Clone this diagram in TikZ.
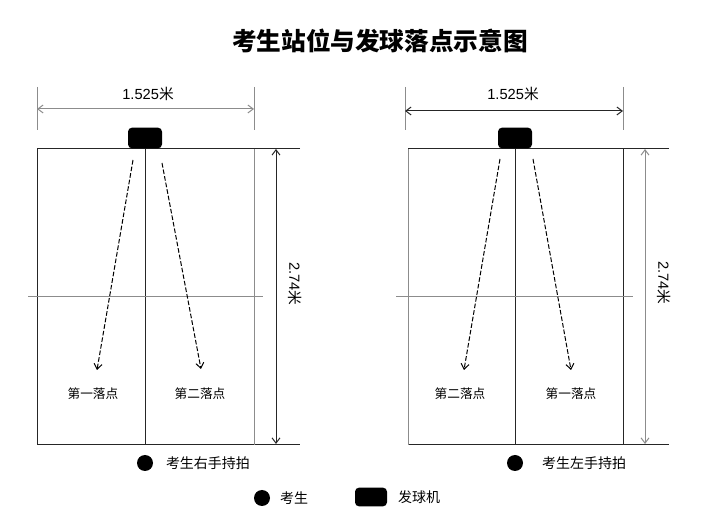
\documentclass[tikz,border=0pt]{standalone}
\usepackage{fontspec}
\setmainfont{Liberation Sans}
\newfontfamily\cjk{Noto Sans CJK SC}
\usetikzlibrary{arrows.meta}

\tikzset{every picture/.style={line width=0.75pt}}
\tikzset{
  court/.style={draw=black!85},
  faint/.style={draw=black!45},
  dimline/.style={{Straight Barb[length=4pt,width=6pt]}-{Straight Barb[length=4pt,width=6pt]}},
  shot/.style={dash pattern=on 3.5pt off 1.5pt,-{Straight Barb[length=4pt,width=6pt]}},
  machine/.style={fill=black,rounded corners=3pt,minimum width=25.5pt,minimum height=15.5pt,inner sep=0pt},
  player/.style={circle,fill=black,minimum size=12pt,inner sep=0pt},
  spot/.style={font=\cjk\fontsize{9.5}{10}\selectfont,inner sep=0.75pt},
  lbl/.style={font=\cjk\fontsize{10.5}{12}\selectfont,inner sep=0.75pt},
  dimtext/.style={font=\fontsize{11}{12}\selectfont,inner sep=0.75pt}
}

\begin{document}
\begin{tikzpicture}[x=0.75pt,y=0.75pt,yscale=-1,xscale=1]
\useasboundingbox (0,0) rectangle (719,520);

% Text Node
\node (title) at (380,41) [font=\cjk\bfseries\fontsize{18.5}{20}\selectfont] {考生站位与发球落点示意图};

%%%%%%%% left court (right hand)
%Shape: Lines
\draw [faint] (37,87) -- (37,130) ;
\draw [faint] (254,87) -- (254,130) ;
\coordinate (lw1) at (37,109) ;
\coordinate (lw2) at (254,109) ;
\draw [faint,dimline] (lw1) -- (lw2) ;
\node (lwlab) at (148,94) [dimtext] {1.525\cjk 米};
%Shape: Court
\draw [court] (300,149) -- (37,149) -- (37,445) -- (300,445) ;
\draw [court] (145,149) -- (145,445) ;
\draw [faint] (254,149) -- (254,445) ;
\draw [faint,line width=0.5pt] (28,296) -- (263,296) ;
\coordinate (lh1) at (276,149) ;
\coordinate (lh2) at (276,444) ;
\draw [court,dimline] (lh1) -- (lh2) ;
\node (lhlab) at (295,284) [dimtext,rotate=-90] {2.74\cjk 米};
%Shape: Machine
\node (lm) at (145,138) [machine] {};
%Shape: Shots
\coordinate (la1) at (133,160) ;
\coordinate (la2) at (97,370) ;
\coordinate (lb1) at (162,163) ;
\coordinate (lb2) at (201,369) ;
\draw [shot] (la1) -- (la2) ;
\draw [shot] (lb1) -- (lb2) ;
% Text Node
\node (lsa) at (93,394) [spot] {第一落点};
\node (lsb) at (200,394) [spot] {第二落点};
%Shape: Player
\node (lp) at (145,463) [player] {};
\node (lplab) at (208,463) [lbl] {考生右手持拍};

%%%%%%%% right court (left hand)
%Shape: Lines
\draw [faint] (405,87) -- (405,130) ;
\draw [faint] (623,87) -- (623,130) ;
\coordinate (rw1) at (405,111) ;
\coordinate (rw2) at (623,111) ;
\draw [court,dimline] (rw1) -- (rw2) ;
\node (rwlab) at (513,94) [dimtext] {1.525\cjk 米};
%Shape: Court
\draw [court] (669,149) -- (408,149) -- (408,445) -- (669,445) ;
\draw [faint] (408,149) -- (408,445) ;
\draw [court] (515,149) -- (515,445) ;
\draw [court] (623,149) -- (623,445) ;
\draw [faint,line width=0.5pt] (396,296) -- (633,296) ;
\coordinate (rh1) at (645,149) ;
\coordinate (rh2) at (645,444) ;
\draw [faint,dimline] (rh1) -- (rh2) ;
\node (rhlab) at (664,283) [dimtext,rotate=-90] {2.74\cjk 米};
%Shape: Machine
\node (rm) at (515,138) [machine] {};
%Shape: Shots
\coordinate (ra1) at (500,159) ;
\coordinate (ra2) at (464,370) ;
\coordinate (rb1) at (533,159) ;
\coordinate (rb2) at (571,370) ;
\draw [shot] (ra1) -- (ra2) ;
\draw [shot] (rb1) -- (rb2) ;
% Text Node
\node (rsa) at (460,394) [spot] {第二落点};
\node (rsb) at (571,394) [spot] {第一落点};
%Shape: Player
\node (rp) at (515,463) [player] {};
\node (rplab) at (584,463) [lbl] {考生左手持拍};

%%%%%%%% legend
\node (kp) at (262,498) [player] {};
\node (kplab) at (294,498) [lbl] {考生};
\node (km) at (371,497) [machine,minimum width=24pt,minimum height=14pt] {};
\node (kmlab) at (419,497) [lbl] {发球机};
\end{tikzpicture}
\end{document}
